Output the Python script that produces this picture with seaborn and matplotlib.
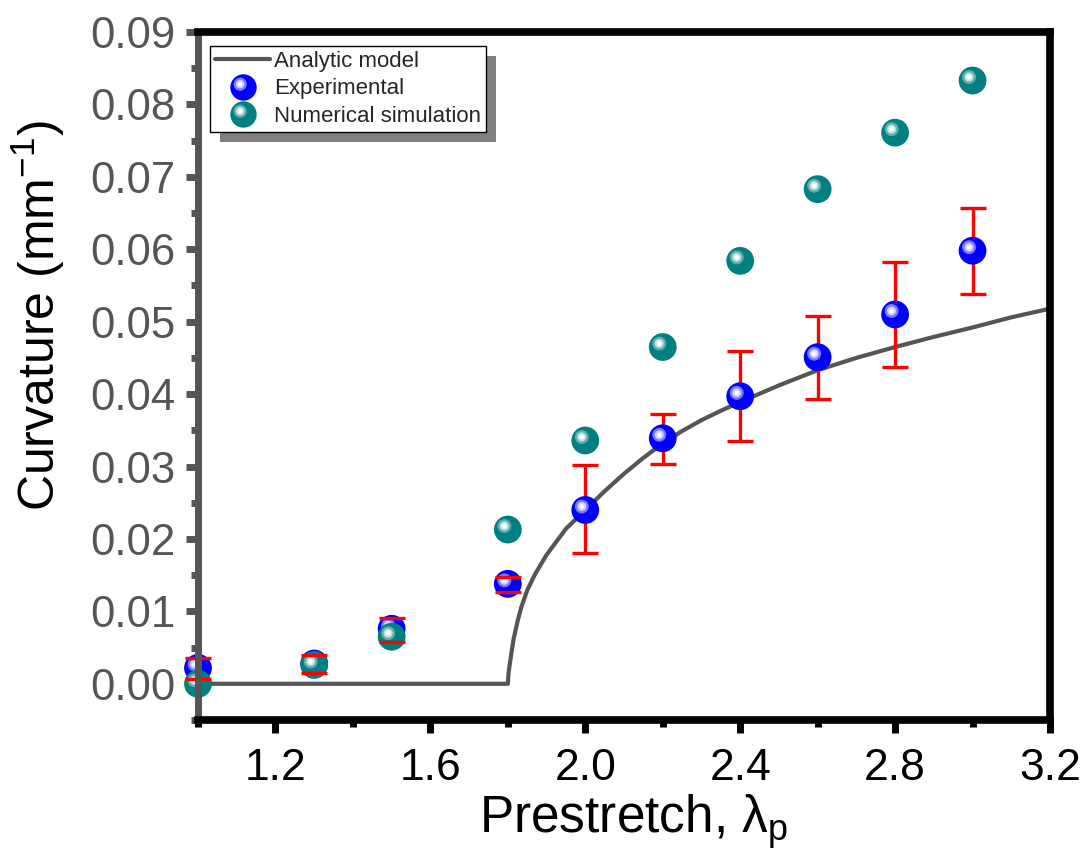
import matplotlib
matplotlib.use("Agg")
import numpy as np
import pandas as pd
import seaborn as sns
import matplotlib.pyplot as plt
from matplotlib.markers import MarkerStyle
from matplotlib.transforms import Affine2D
from matplotlib.lines import Line2D
from matplotlib.legend_handler import HandlerTuple
from matplotlib.patches import Rectangle
from matplotlib.ticker import MultipleLocator, FormatStrFormatter

# ---------------- data ----------------
prestretch = [1.0, 1.3, 1.5, 1.8, 2.0, 2.2, 2.4, 2.6, 2.8, 3.0]
exp_curv = [0.0022, 0.0028, 0.0076, 0.0138, 0.0240, 0.0339, 0.0397, 0.0451, 0.0510, 0.0598]
exp_high = [0.0035, 0.0040, 0.0091, 0.0147, 0.0302, 0.0373, 0.0459, 0.0508, 0.0582, 0.0657]
exp_low = [0.0007, 0.0015, 0.0058, 0.0127, 0.0180, 0.0304, 0.0335, 0.0393, 0.0438, 0.0538]
sim_curv = [0.0000, 0.0026, 0.0065, 0.0213, 0.0336, 0.0465, 0.0584, 0.0683, 0.0761, 0.0833]

model_x = [1.0, 1.4, 1.8, 1.802, 1.805, 1.81, 1.815, 1.825, 1.835, 1.85, 1.87, 1.9,
           1.95, 2.0, 2.05, 2.1, 2.15, 2.2, 2.25, 2.3, 2.35, 2.4, 2.5, 2.6, 2.7,
           2.8, 2.9, 3.0, 3.1, 3.2]
model_y = [0.0, 0.0, 0.0, 0.0015, 0.0027, 0.0045, 0.0062, 0.0086, 0.0106, 0.0129,
           0.0151, 0.0178, 0.0214, 0.0240, 0.0266, 0.0290, 0.0312, 0.0332, 0.0349,
           0.0364, 0.0377, 0.0389, 0.0412, 0.0433, 0.0450, 0.0465, 0.0479, 0.0492,
           0.0506, 0.0518]

x_major = [1.2, 1.6, 2.0, 2.4, 2.8, 3.2]
x_major_labels = ["1.2", "1.6", "2.0", "2.4", "2.8", "3.2"]

series_names = ["Analytic model", "Experimental", "Numerical simulation"]

# ---------------- style ----------------
sns.set_style("white")
plt.rcParams["font.family"] = ["Liberation Sans", "DejaVu Sans"]
plt.rcParams["mathtext.default"] = "regular"

fig = plt.figure(figsize=(10.85, 8.61), dpi=100)
ax = fig.add_axes([198 / 1085, 1 - 720 / 861, (1050 - 198) / 1085, (720 - 32) / 861])

GRAY = "#555555"

# analytic model
sns.lineplot(x=model_x, y=model_y, ax=ax, color=GRAY, linewidth=3.0,
             sort=False, estimator=None, zorder=2, solid_joinstyle="round")

# error bars
lo = np.array(exp_curv) - np.array(exp_low)
hi = np.array(exp_high) - np.array(exp_curv)
eb = ax.errorbar(prestretch, exp_curv, yerr=[lo, hi], fmt="none", ecolor="#ff0000",
                 elinewidth=2.4, capsize=9.7, capthick=2.4, zorder=3)
for c in eb[1]:
    c.set_zorder(12)
    c.set_clip_on(False)
for c in eb[2]:
    c.set_zorder(3)
    c.set_clip_on(False)


def hl(dx, dy):
    return MarkerStyle("o", transform=Affine2D().translate(dx, dy))


def sphere(xv, yv, colors, z):
    base, mid, light = colors
    sns.scatterplot(x=xv, y=yv, ax=ax, s=400, color=base, edgecolor="none",
                    linewidth=0, zorder=z, clip_on=False, legend=False)
    sns.scatterplot(x=xv, y=yv, ax=ax, s=100, color=mid, edgecolor="none", linewidth=0,
                    marker=hl(-0.25, 0.25), zorder=z + 0.1, clip_on=False, legend=False)
    sns.scatterplot(x=xv, y=yv, ax=ax, s=42, color=light, edgecolor="none", linewidth=0,
                    marker=hl(-0.39, 0.39), zorder=z + 0.2, clip_on=False, legend=False)
    sns.scatterplot(x=xv, y=yv, ax=ax, s=11, color="white", edgecolor="none", linewidth=0,
                    marker=hl(-0.75, 0.75), zorder=z + 0.3, clip_on=False, legend=False)


BLUE = ("#0000ff", "#7a7aff", "#cfcfff")
TEAL = ("#008080", "#62adad", "#c6e4e4")
sphere(prestretch, exp_curv, BLUE, 5)
sphere(prestretch, sim_curv, TEAL, 8)

# ---------------- axes ----------------
ax.set_xlim(1.0, 3.2)
ax.set_ylim(-0.005, 0.09)
ax.set_xticks(x_major, x_major_labels, fontstretch="condensed")
ax.xaxis.set_minor_locator(MultipleLocator(0.2))
ax.yaxis.set_major_locator(MultipleLocator(0.01))
ax.yaxis.set_minor_locator(MultipleLocator(0.005))
ax.yaxis.set_major_formatter(FormatStrFormatter("%.2f"))

ax.tick_params(axis="x", which="major", length=9.5, width=5, color="black",
               direction="out", pad=11, labelsize=32, labelcolor="black",
               bottom=True, top=False)
ax.tick_params(axis="x", which="minor", length=5.3, width=5, color="black",
               direction="out", bottom=True, top=False)
ax.tick_params(axis="y", which="major", length=8.5, width=5, color=GRAY,
               direction="out", pad=8, labelsize=31.5, labelcolor=GRAY,
               left=True, right=False)
ax.tick_params(axis="y", which="minor", length=5, width=5, color=GRAY,
               direction="out", left=True, right=False)

for name, sp in ax.spines.items():
    sp.set_visible(True)
    sp.set_linewidth(5.5)
    sp.set_color("black")
    sp.set_capstyle("projecting")
    sp.set_zorder(20)
ax.spines["left"].set_color(GRAY)
ax.spines["left"].set_linewidth(5.0)

ax.set_xlabel("Prestretch, λ$_p$", fontsize=37, color="black", va="center")
ax.xaxis.set_label_coords(0.511, -0.148)
ax.set_ylabel("Curvature (mm$^{-1}$)", fontsize=36, color="black", va="center")
ax.yaxis.set_label_coords(-0.187, 0.587)

# ---------------- legend ----------------
h_line = Line2D([], [], color=GRAY, linewidth=3.0)


def sphere_handle(colors):
    base, mid, light = colors
    return (
        Line2D([], [], linestyle="none", marker="o", markersize=19, markerfacecolor=base,
               markeredgewidth=0),
        Line2D([], [], linestyle="none", marker=hl(-0.25, 0.25), markersize=9.5,
               markerfacecolor=mid, markeredgewidth=0),
        Line2D([], [], linestyle="none", marker=hl(-0.39, 0.39), markersize=6.2,
               markerfacecolor=light, markeredgewidth=0),
        Line2D([], [], linestyle="none", marker=hl(-0.75, 0.75), markersize=3.2,
               markerfacecolor="white", markeredgewidth=0),
    )


leg = ax.legend([h_line, sphere_handle(BLUE), sphere_handle(TEAL)], series_names,
                handler_map={tuple: HandlerTuple(ndivide=1, pad=0)},
                loc="upper left", bbox_to_anchor=(0.014, 0.98), borderaxespad=0,
                fontsize=16, frameon=True, fancybox=False, shadow=False,
                edgecolor="black", framealpha=1, handlelength=2.5, handletextpad=0.15,
                labelspacing=0.3, borderpad=0.22)
leg.get_frame().set_linewidth(1.0)
leg.set_zorder(30)

fig.canvas.draw()
bb = leg.get_window_extent().transformed(ax.transAxes.inverted())
dx = 10 / ((1050 - 198))
dy = 10 / ((720 - 32))
shadow = Rectangle((bb.x0 + dx, bb.y0 - dy), bb.width, bb.height, transform=ax.transAxes,
                   facecolor="#808080", edgecolor="none", zorder=29, clip_on=False)
ax.add_patch(shadow)

fig.savefig("out.png", dpi=100)
